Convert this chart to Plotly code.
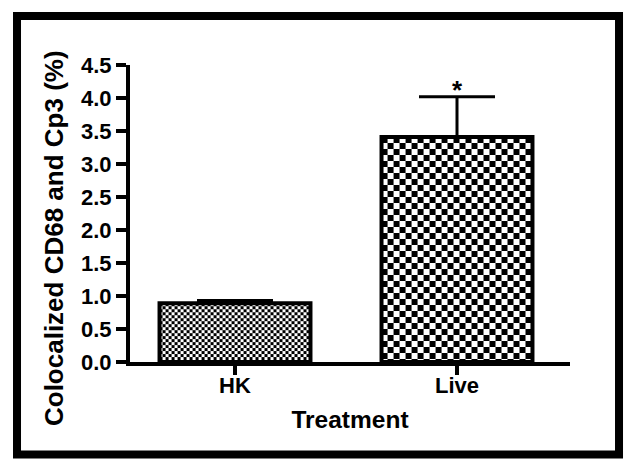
import base64
import struct
import zlib

import plotly.graph_objects as go

# ----------------- data ----------------- #
treatments = ["HK", "Live"]
coloc_pct = [0.89, 3.41]
sem_up = [0.04, 0.61]
sig_marks = ["", "*"]
y_ticks = [0.0, 0.5, 1.0, 1.5, 2.0, 2.5, 3.0, 3.5, 4.0, 4.5]

FONT = "Liberation Sans, Arial, sans-serif"
BAR_W = 0.68
X_RANGE = [-0.473, 1.509]
Y_RANGE = [0, 4.5]
PLOT_W, PLOT_H = 440, 297
checker_sq = [3, 6]  # checker square size in px per bar


def checker_png(w, h, sq):
    # tiny grayscale png, black/white checkerboard
    raw = b""
    for yy in range(h):
        row = bytearray([0])
        for xx in range(w):
            row.append(0 if (xx // sq + yy // sq) % 2 == 0 else 255)
        raw += bytes(row)

    def chunk(tag, data):
        return (struct.pack(">I", len(data)) + tag + data +
                struct.pack(">I", zlib.crc32(tag + data) & 0xffffffff))

    png = (b"\x89PNG\r\n\x1a\n" +
           chunk(b"IHDR", struct.pack(">IIBBBBB", w, h, 8, 0, 0, 0, 0)) +
           chunk(b"IDAT", zlib.compress(raw)) + chunk(b"IEND", b""))
    return "data:image/png;base64," + base64.b64encode(png).decode()


px_x = PLOT_W / (X_RANGE[1] - X_RANGE[0])
px_y = PLOT_H / (Y_RANGE[1] - Y_RANGE[0])
xpos = list(range(len(treatments)))

fig = go.Figure()

fig.add_trace(go.Bar(
    x=xpos, y=coloc_pct, width=BAR_W,
    marker=dict(color="rgba(0,0,0,0)", line=dict(color="black", width=4)),
    error_y=dict(type="data", symmetric=False, array=sem_up,
                 arrayminus=[0] * len(sem_up), color="black", thickness=3, width=38),
    showlegend=False,
))

# checkerboard fill under the transparent bars
for i, v in enumerate(coloc_pct):
    fig.add_layout_image(
        source=checker_png(round(BAR_W * px_x), round(v * px_y), checker_sq[i]),
        xref="x", yref="y", x=xpos[i] - BAR_W / 2, y=v,
        sizex=BAR_W, sizey=v, xanchor="left", yanchor="top",
        sizing="stretch", layer="below")

# significance star
for i, mark in enumerate(sig_marks):
    if mark:
        fig.add_annotation(x=xpos[i], y=coloc_pct[i] + sem_up[i], text=mark,
                           showarrow=False, yanchor="bottom", yshift=-10,
                           font=dict(family=FONT, size=26, color="black", weight="bold"))

# y title as annotation (sits a bit lower than plot centre in the original)
fig.add_annotation(text="Colocalized CD68 and Cp3 (%)", textangle=-90,
                   xref="paper", yref="paper", x=-0.173, y=0.417,
                   showarrow=False, xanchor="center", yanchor="middle",
                   font=dict(family=FONT, size=26, color="black", weight="bold"))

# thick outer frame
fig.add_shape(type="rect", xref="paper", yref="paper",
              x0=-0.2568, x1=1.1114, y0=-0.3114, y1=1.165,
              line=dict(color="black", width=8), fillcolor="rgba(0,0,0,0)")

# page body adds 8px, so margins are pulled in by 8
fig.update_layout(
    width=635, height=471,
    margin=dict(l=122, r=635 - 122 - PLOT_W, t=57, b=471 - 57 - PLOT_H),
    paper_bgcolor="white", plot_bgcolor="white",
    font=dict(family=FONT, color="black"),
    xaxis=dict(range=X_RANGE, tickvals=xpos, ticktext=treatments,
               showgrid=False, zeroline=False,
               showline=True, linecolor="black", linewidth=4,
               ticks="outside", ticklen=9, tickwidth=4, tickcolor="black",
               ticklabelstandoff=-8,
               tickfont=dict(size=22, weight="bold"),
               title=dict(text="Treatment", standoff=14,
                          font=dict(size=24.5, weight="bold"))),
    yaxis=dict(range=Y_RANGE, tickvals=y_ticks,
               ticktext=[f"{v:.1f}" for v in y_ticks],
               showgrid=False, zeroline=False,
               showline=True, linecolor="black", linewidth=4,
               ticks="outside", ticklen=10, tickwidth=4, tickcolor="black",
               tickfont=dict(size=22, weight="bold")),
)

fig.write_html("out.html")
